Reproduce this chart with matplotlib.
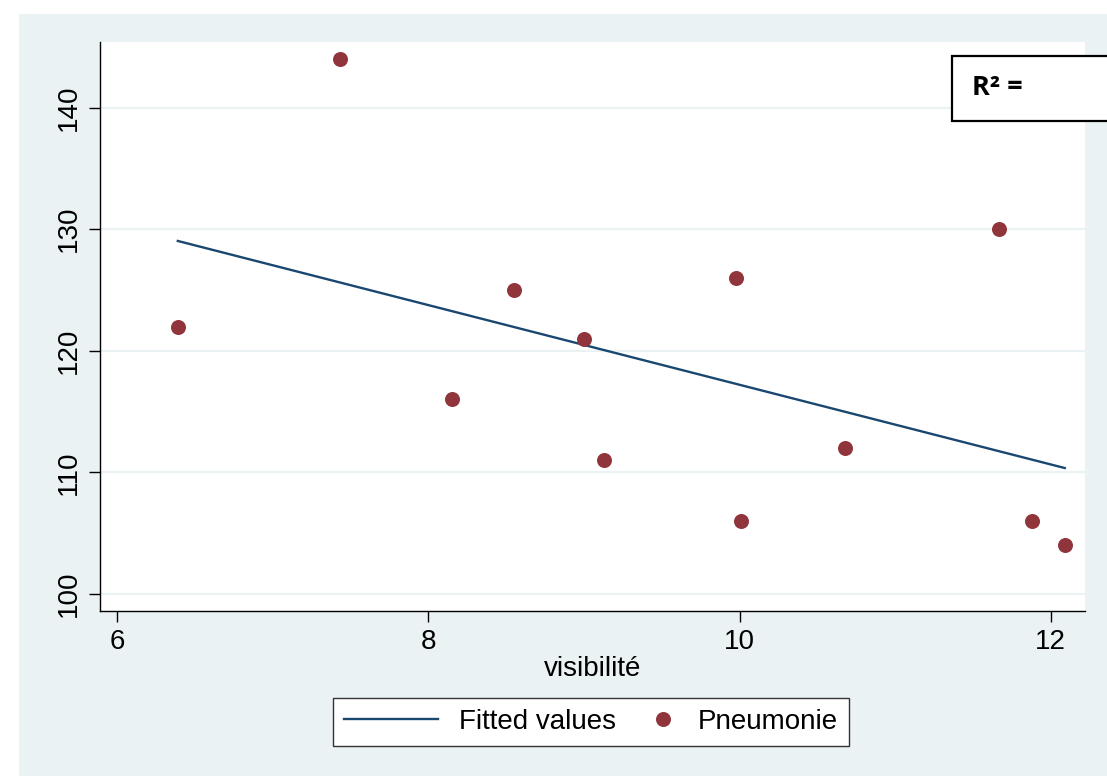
import numpy as np
import matplotlib
matplotlib.use('Agg')
import matplotlib.pyplot as plt
from matplotlib.patches import Rectangle
from matplotlib.legend_handler import HandlerLine2D

# visibility vs pneumonia cases
visibilite = [6.39, 7.43, 8.15, 8.55, 9.00, 9.13, 9.98, 10.01, 10.68, 11.67, 11.88, 12.09]
pneumonie = [122, 144, 116, 125, 121, 111, 126, 106, 112, 130, 106, 104]

x_ticks = [6, 8, 10, 12]
y_ticks = [100, 110, 120, 130, 140]
y_ticklabels = ['100', '110', '120', '130', '140']

bg = '#eaf2f3'
navy = '#1a476f'
maroon = '#90353b'

plt.rcParams['font.family'] = ['Liberation Sans', 'DejaVu Sans']


class WideLine(HandlerLine2D):
    # longer key for the fitted line only
    def legend_artist(self, legend, orig_handle, fontsize, handlebox):
        handlebox.width *= 3.4
        return super().legend_artist(legend, orig_handle, fontsize, handlebox)


x = np.array(visibilite)
y = np.array(pneumonie)
slope, intercept = np.polyfit(x, y, 1)
xs = np.sort(x)
fitted = slope * xs + intercept

fig = plt.figure(figsize=(11.07, 7.76), dpi=100)
fig.patch.set_facecolor('white')
fig.patches.append(Rectangle((19 / 1107, 0), 1, 762 / 776, transform=fig.transFigure,
                             facecolor=bg, edgecolor='none', zorder=-10))

ax = fig.add_axes([100 / 1107, 165 / 776, 985 / 1107, 569 / 776])
ax.set_facecolor('white')

ax.set_xlim(5.89, 12.22)
ax.set_ylim(98.6, 145.4)

for v in y_ticks:
    ax.axhline(v, color=bg, lw=1.6, zorder=0)

line, = ax.plot(xs, fitted, color=navy, lw=1.7, zorder=2)
pts, = ax.plot(x, y, 'o', color=maroon, markersize=10.8, markeredgewidth=0, zorder=3)

for s in ['top', 'right']:
    ax.spines[s].set_visible(False)
for s in ['left', 'bottom']:
    ax.spines[s].set_color('black')
    ax.spines[s].set_linewidth(1.0)

ax.set_xticks(x_ticks)
ax.set_yticks(y_ticks)
ax.set_yticklabels(y_ticklabels, rotation=90, va='center')
ax.tick_params(axis='both', direction='out', length=8, width=1, labelsize=20, colors='black', pad=5)
ax.set_xlabel('visibilité', fontsize=20, labelpad=1)

# R² annotation box
fig.patches.append(Rectangle((952 / 1107, 655 / 776), 0.2, 65 / 776, transform=fig.transFigure,
                             facecolor='white', edgecolor='black', lw=1.6, zorder=5, clip_on=False))
fig.text(972 / 1107, 688 / 776, 'R² =', fontsize=19.5, fontweight='bold', family='Open Sans',
         va='center', ha='left', zorder=6)

leg = fig.legend([line, pts], ['Fitted values', 'Pneumonie'], loc='center',
                 bbox_to_anchor=(591 / 1107, 54 / 776), ncol=2, fontsize=20,
                 handler_map={line: WideLine()},
                 frameon=True, fancybox=False, edgecolor='#333333', framealpha=1,
                 handlelength=1.0, columnspacing=1.2, borderpad=0.4, handletextpad=0.75)
leg.get_frame().set_linewidth(1.0)

fig.savefig('out.png', dpi=100, facecolor=fig.get_facecolor())
